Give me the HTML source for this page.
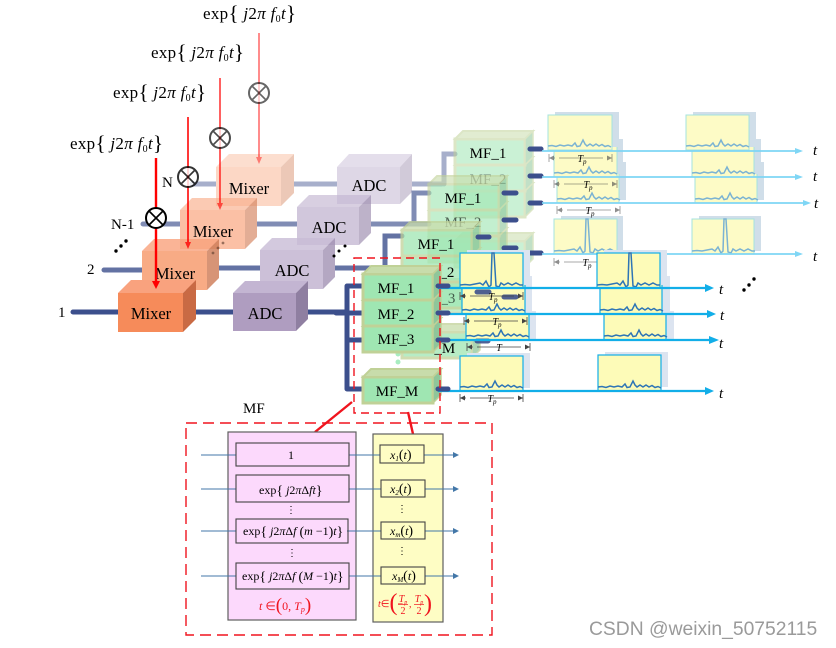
<!DOCTYPE html>
<html><head><meta charset="utf-8"><style>
html,body{margin:0;padding:0;background:#fff}
svg{display:block}
text{font-family:"Liberation Serif",serif;fill:#000}
.f{font-size:17px;letter-spacing:.3px}
.b{font-size:16.5px;text-anchor:middle}
.m{font-size:15px;text-anchor:middle}
.i{font-style:italic}
.l{font-size:15px}
.s{font-size:12px}
.tp{font-size:10px;font-style:italic;text-anchor:middle}
.tt{font-size:15px;font-style:italic}
.r{fill:#f0141e}
.bl{stroke:#3c4f8c;stroke-width:5;stroke-linecap:round;fill:none}
.soft{filter:blur(.35px)}
</style></head><body>
<svg width="836" height="648" viewBox="0 0 836 648" xmlns="http://www.w3.org/2000/svg">
<defs>
<g id="mfc"><rect x="0" y="0" width="70" height="26" fill="#9fe6b2" stroke="#c0d197" stroke-width="3"/><polygon points="0,0 8,-8 78,-8 70,0" fill="#c8dcab" stroke="#c0d197" stroke-width="2"/><polygon points="70,0 78,-8 78,18 70,26" fill="#8fc69a" stroke="#c0d197" stroke-width="1.5"/></g>
<polyline id="wv" fill="none" stroke-width="1.5" points="0,-4 4,-4.5 8,-3.5 12,-5 16,-4 20,-5 24,-4 27,-7 29,-3.5 32,-4 35,-10 37,-6 39,-4 42,-6 45,-4 48,-6 51,-4 54,-5.5 57,-3.5 60,-4.5 63,-3"/>
<polyline id="pk" fill="none" stroke-width="1.5" points="0,-3 5,-3.5 10,-3 15,-4 20,-5 23,-3 26,-7 28,-3 29,-1 31,-3 32,-35 34,-35 36,-2 39,-1 41,-5 44,-3 48,-5 52,-3 56,-5 60,-3 63,-3"/>
<g id="ym"><path d="M0,0H6M10,0H54M58,0H63" stroke="#444" stroke-width=".8"/><path d="M0,0L5,-2.5V2.5ZM63,0L58,-2.5V2.5Z" fill="#444"/><path d="M0,-4V4M63,-4V4" stroke="#444" stroke-width=".8"/></g>
<g id="xc"><circle r="10" fill="#fff" stroke="#000" stroke-width="2"/><path d="M-6.5,-6.5L6.5,6.5M-6.5,6.5L6.5,-6.5" stroke="#000" stroke-width="1.6"/></g>
</defs>
<g class="soft">
<!-- exp labels -->
<text class="f" x="203" y="19">exp<tspan font-size="21" dy="1">{</tspan><tspan dy="-1" class="i"> j</tspan>2<tspan class="i">π f</tspan><tspan font-size="10" dy="3">0</tspan><tspan dy="-3" class="i">t</tspan><tspan font-size="21" dy="1">}</tspan></text>
<text class="f" x="151" y="58">exp<tspan font-size="21" dy="1">{</tspan><tspan dy="-1" class="i"> j</tspan>2<tspan class="i">π f</tspan><tspan font-size="10" dy="3">0</tspan><tspan dy="-3" class="i">t</tspan><tspan font-size="21" dy="1">}</tspan></text>
<text class="f" x="113" y="98">exp<tspan font-size="21" dy="1">{</tspan><tspan dy="-1" class="i"> j</tspan>2<tspan class="i">π f</tspan><tspan font-size="10" dy="3">0</tspan><tspan dy="-3" class="i">t</tspan><tspan font-size="21" dy="1">}</tspan></text>
<text class="f" x="70" y="149">exp<tspan font-size="21" dy="1">{</tspan><tspan dy="-1" class="i"> j</tspan>2<tspan class="i">π f</tspan><tspan font-size="10" dy="3">0</tspan><tspan dy="-3" class="i">t</tspan><tspan font-size="21" dy="1">}</tspan></text>

<!-- channel N (rear) -->
<g opacity=".45">
<path class="bl" d="M192,184H225M290,184H345M403,184H442M444,184V154H455"/>
<polygon points="216,167 229,154 294,154 281,167" fill="#f9b796"/><rect x="216" y="167" width="65" height="39" fill="#f9a67e"/><polygon points="281,167 294,154 294,193 281,206" fill="#d68660"/>
<polygon points="337,167 349,154 412,154 400,167" fill="#c3b5d2"/><rect x="337" y="167" width="63" height="37" fill="#b7a6c8"/><polygon points="400,167 412,154 412,192 400,204" fill="#9a89ac"/>
</g>
<text class="b" x="249" y="194">Mixer</text><text class="b" x="369" y="191">ADC</text>

<!-- channel N-1 -->
<g opacity=".65">
<path class="bl" d="M143,224H190M252,224H298M366,224H429M414,224V193H429"/>
<polygon points="180,210 192,198 257,198 245,210" fill="#f9ae8b"/><rect x="180" y="210" width="65" height="39" fill="#f99f76"/><polygon points="245,210 257,198 257,237 245,249" fill="#d4815c"/>
<polygon points="297,207 309,195 371,195 359,207" fill="#c3b5d2"/><rect x="297" y="207" width="62" height="38" fill="#b9a9ca"/><polygon points="359,207 371,195 371,233 359,245" fill="#9a89ac"/>
</g>
<text class="b" x="213" y="237">Mixer</text><text class="b" x="329" y="233">ADC</text>

<!-- channel 2 -->
<g opacity=".8">
<path class="bl" d="M104,270H142M214,268H260M332,268H385V236H402"/>
<polygon points="142,251 154,239 219,239 207,251" fill="#f9a27c"/><rect x="142" y="251" width="65" height="39" fill="#f79767"/><polygon points="207,251 219,239 219,278 207,290" fill="#cd7a54"/>
<polygon points="260,250 272,238 335,238 323,250" fill="#c9bcd6"/><rect x="260" y="250" width="63" height="39" fill="#c0b1cf"/><polygon points="323,250 335,238 335,277 323,289" fill="#a291b3"/>
</g>
<text class="b" x="175" y="279">Mixer</text><text class="b" x="292" y="276">ADC</text>

<!-- channel 1 -->
<path class="bl" d="M73,312H118M190,312H233M304,312H347"/>
<polygon points="118,293 131,280 196,280 183,293" fill="#f9a27e"/><rect x="118" y="293" width="65" height="39" fill="#f68b5a"/><polygon points="183,293 196,280 196,319 183,332" fill="#c96a44"/>
<polygon points="233,293 245,281 308,281 296,293" fill="#c3b5d2"/><rect x="233" y="293" width="63" height="38" fill="#af9dc0"/><polygon points="296,293 308,281 308,319 296,331" fill="#8f7fa1"/>
<text class="b" x="151" y="319">Mixer</text><text class="b" x="265" y="319">ADC</text>

<!-- channel labels -->
<text class="l" x="162" y="187">N</text><text class="l" x="111" y="229">N-1</text><text class="l" x="87" y="274">2</text><text class="l" x="58" y="317">1</text>

<!-- ellipsis dots -->
<g fill="#000"><circle cx="116" cy="251" r="1.7"/><circle cx="121" cy="246" r="1.7"/><circle cx="126" cy="241" r="1.7"/>
<circle cx="334" cy="256" r="1.5"/><circle cx="339" cy="251" r="1.5"/><circle cx="345" cy="246" r="1.5"/>
<circle cx="744" cy="290" r="1.7"/><circle cx="749" cy="285" r="1.7"/><circle cx="754" cy="279" r="1.7"/></g>
<g fill="#5a3a2a" opacity=".6"><circle cx="213" cy="253" r="1.4"/><circle cx="218" cy="248" r="1.4"/><circle cx="223" cy="243" r="1.4"/></g>

<!-- LO red lines and mixers -->
<g stroke="#f00" fill="#f00">
<g opacity=".45"><path d="M259,33V160" stroke-width="2" fill="none"/><polygon points="256,157 262,157 259,164" stroke="none"/></g>
<g opacity=".62"><path d="M220,78V206" stroke-width="2" fill="none"/><polygon points="217,203 223,203 220,210" stroke="none"/></g>
<g opacity=".78"><path d="M188,117V245" stroke-width="2" fill="none"/><polygon points="185,242 191,242 188,249" stroke="none"/></g>
<path d="M156,158V283" stroke-width="2.4" fill="none"/><polygon points="152,281 160,281 156,289" stroke="none"/>
</g>
<use href="#xc" x="259" y="93" opacity=".6"/><use href="#xc" x="220" y="138" opacity=".7"/><use href="#xc" x="188" y="177" opacity=".8"/><use href="#xc" x="156" y="218"/>

<!-- rear matched filter groups -->
<g opacity=".55">
<use href="#mfc" x="455" y="241"/><use href="#mfc" x="455" y="191"/><use href="#mfc" x="455" y="165"/><use href="#mfc" x="455" y="139"/>
<path class="bl" d="M530,149H541M530,176H541M530,203H541M530,253H541"/>
</g>
<text class="m" x="488" y="158">MF_1</text><text class="m" x="488" y="184" opacity=".45">MF_2</text>
<path class="bl" d="M530,149H541M530,176H541M530,203H541M530,253H541"/>
<g opacity=".62">
<use href="#mfc" x="429" y="287"/><use href="#mfc" x="429" y="236"/><use href="#mfc" x="429" y="210"/><use href="#mfc" x="429" y="184"/>
</g>
<text class="m" x="463" y="203">MF_1</text><text class="m" x="463" y="227" opacity=".6">MF_2</text>
<path class="bl" d="M504,193H516M504,220H516M504,248H516"/>
<g opacity=".75">
<use href="#mfc" x="402" y="332"/><use href="#mfc" x="402" y="282"/><use href="#mfc" x="402" y="256"/><use href="#mfc" x="402" y="230"/>
</g>
<text class="m" x="436" y="249">MF_1</text><text class="m" x="436" y="277">MF_2</text><text class="m" x="437" y="303" opacity=".6">MF_3</text><text class="m" x="434" y="353">MF_M</text>
<path class="bl" d="M478,237H489"/>

<!-- rear waveform boxes -->
<g opacity=".8" stroke="#5aa0c8">
<g><rect x="564" y="162" width="62" height="38" fill="#c5d6e4" stroke="none"/><rect x="557" y="165" width="62" height="38" fill="#fdfbb8" stroke="#8fdcd8"/><use href="#wv" x="557" y="203"/>
<rect x="702" y="162" width="62" height="38" fill="#c5d6e4" stroke="none"/><rect x="695" y="165" width="62" height="38" fill="#fdfbb8" stroke="#8fdcd8"/><use href="#wv" x="695" y="203"/></g>
<g><rect x="561" y="139" width="62" height="35" fill="#c5d6e4" stroke="none"/><rect x="554" y="142" width="63" height="35" fill="#fdfbb8" stroke="#8fdcd8"/><use href="#wv" x="554" y="177"/>
<rect x="699" y="139" width="62" height="35" fill="#c5d6e4" stroke="none"/><rect x="692" y="142" width="62" height="35" fill="#fdfbb8" stroke="#8fdcd8"/><use href="#wv" x="692" y="177"/></g>
<g><rect x="555" y="112" width="64" height="35" fill="#c5d6e4" stroke="none"/><rect x="548" y="115" width="64" height="35" fill="#fdfbb8" stroke="#8fdcd8"/><use href="#wv" x="548" y="150"/>
<rect x="693" y="112" width="63" height="35" fill="#c5d6e4" stroke="none"/><rect x="686" y="115" width="63" height="35" fill="#fdfbb8" stroke="#8fdcd8"/><use href="#wv" x="686" y="150"/></g>
<g><rect x="561" y="216" width="62" height="35" fill="#c5d6e4" stroke="none"/><rect x="554" y="219" width="63" height="35" fill="#fdfbb8" stroke="#8fdcd8"/><use href="#pk" x="554" y="254"/>
<rect x="699" y="216" width="62" height="35" fill="#c5d6e4" stroke="none"/><rect x="692" y="219" width="62" height="35" fill="#fdfbb8" stroke="#8fdcd8"/><use href="#pk" x="692" y="254"/></g>
</g>
<g stroke="#7fd6f5" stroke-width="1.8" fill="none"><path d="M542,151H797M542,177H797M542,203H803M542,254H797"/></g>
<g fill="#7fd6f5"><polygon points="795,148 803,151 795,154"/><polygon points="795,174 803,177 795,180"/><polygon points="803,200 811,203 803,206"/><polygon points="795,251 803,254 795,257"/></g>
<g opacity=".6"><use href="#ym" x="549" y="158"/><use href="#ym" x="554" y="184"/><use href="#ym" x="557" y="210"/><use href="#ym" x="554" y="262"/></g>
<text class="tp" x="582" y="162">T<tspan font-size="7" dy="2">p</tspan></text><text class="tp" x="588" y="188">T<tspan font-size="7" dy="2">p</tspan></text><text class="tp" x="590" y="214">T<tspan font-size="7" dy="2">p</tspan></text><text class="tp" x="587" y="266">T<tspan font-size="7" dy="2">p</tspan></text>
<text class="tt" x="813" y="155">t</text><text class="tt" x="813" y="181">t</text><text class="tt" x="814" y="208">t</text><text class="tt" x="813" y="261">t</text>

<!-- front buses -->
<path class="bl" d="M347,286V389M347,286H362M336,313H362M347,340H362M347,389H362"/>
<g fill="#a8edc0"><circle cx="398" cy="354" r="2.5"/><circle cx="398" cy="362" r="2.5"/><circle cx="398" cy="371" r="2.5"/></g>
<!-- front MF -->
<use href="#mfc" x="363" y="377"/><use href="#mfc" x="363" y="326"/><use href="#mfc" x="363" y="300"/><use href="#mfc" x="363" y="274"/>
<text class="m" x="396" y="293">MF_1</text><text class="m" x="396" y="319">MF_2</text><text class="m" x="396" y="344">MF_3</text><text class="m" x="397" y="396">MF_M</text>

<!-- front waveform boxes -->
<g stroke="#2e75b6">
<rect x="473" y="311" width="63" height="28" fill="#dce4f0" stroke="none"/><rect x="466" y="314" width="63" height="26" fill="#fdfbb8" stroke="#12aee8" stroke-width="1.2"/><use href="#wv" x="466" y="340"/>
<rect x="611" y="311" width="63" height="28" fill="#dce4f0" stroke="none"/><rect x="604" y="314" width="62" height="26" fill="#fdfbb8" stroke="#12aee8" stroke-width="1.2"/><use href="#wv" x="604" y="340"/>
<rect x="469" y="276" width="63" height="35" fill="#dce4f0" stroke="none"/><rect x="462" y="279" width="63" height="35" fill="#fdfbb8" stroke="#12aee8" stroke-width="1.2"/><use href="#wv" x="462" y="314"/>
<rect x="607" y="276" width="63" height="35" fill="#dce4f0" stroke="none"/><rect x="600" y="279" width="62" height="35" fill="#fdfbb8" stroke="#12aee8" stroke-width="1.2"/><use href="#wv" x="600" y="314"/>
<rect x="467" y="250" width="63" height="35" fill="#dce4f0" stroke="none"/><rect x="460" y="253" width="63" height="35" fill="#fdfbb8" stroke="#12aee8" stroke-width="1.2"/><use href="#pk" x="460" y="288"/>
<rect x="604" y="250" width="63" height="35" fill="#dce4f0" stroke="none"/><rect x="597" y="253" width="63" height="35" fill="#fdfbb8" stroke="#12aee8" stroke-width="1.2"/><use href="#pk" x="597" y="288"/>
<rect x="467" y="353" width="63" height="35" fill="#dce4f0" stroke="none"/><rect x="460" y="356" width="63" height="35" fill="#fdfbb8" stroke="#12aee8" stroke-width="1.2"/><use href="#wv" x="460" y="391"/>
<rect x="605" y="352" width="63" height="35" fill="#dce4f0" stroke="none"/><rect x="598" y="355" width="63" height="36" fill="#fdfbb8" stroke="#12aee8" stroke-width="1.2"/><use href="#wv" x="598" y="391"/>
</g>
<path class="bl" d="M477,292H489M504,297H516M477,341H488" opacity=".9"/>
<g stroke="#12aee8" stroke-width="2.2" fill="none"><path d="M438,288H706M438,314H708M438,340H710M438,391H706"/></g>
<g fill="#12aee8"><polygon points="705,284 714,288 705,292"/><polygon points="707,310 716,314 707,318"/><polygon points="709,336 719,340 709,344"/><polygon points="705,387 714,391 705,395"/></g>
<path class="bl" d="M438,286H448M438,313H448M438,340H448M438,389H448"/>
<use href="#ym" x="460" y="296"/><use href="#ym" x="464" y="321"/><use href="#ym" x="467" y="347"/><use href="#ym" x="460" y="398"/>
<text class="tp" x="493" y="300">T<tspan font-size="7" dy="2">p</tspan></text><text class="tp" x="497" y="325">T<tspan font-size="7" dy="2">p</tspan></text><text class="tp" x="499" y="351">T</text><text class="tp" x="492" y="402">T<tspan font-size="7" dy="2">p</tspan></text>
<text class="tt" x="719" y="294">t</text><text class="tt" x="720" y="320">t</text><text class="tt" x="719" y="348">t</text><text class="tt" x="719" y="398">t</text>

<!-- red dashed selection -->
<rect x="354" y="258" width="86" height="155" fill="none" stroke="#f0141e" stroke-width="1.4" stroke-dasharray="8 5"/>
<rect x="186" y="423" width="306" height="212" fill="none" stroke="#f0141e" stroke-width="1.4" stroke-dasharray="11 6"/>
<path d="M352,402L315,432M408,412L413,434" stroke="#f0141e" stroke-width="2.4" fill="none"/>
<text x="243" y="413" font-size="15">MF</text>

<!-- MF detail -->
<rect x="228" y="432" width="128" height="188" fill="#fcd9fc" stroke="#5f5f5f" stroke-width="1.2"/>
<rect x="373" y="434" width="70" height="188" fill="#fefdc4" stroke="#5f5f5f" stroke-width="1.2"/>
<g stroke="#4377a8" stroke-width="1" fill="none">
<path d="M201,455H236M201,489H236M201,531H236M201,576H236M349,455H380M349,489H381M347,531H381M349,576H381M424,455H453M425,489H453M425,531H453M425,576H453"/></g>
<g fill="#4377a8"><polygon points="453,452 459,455 453,458"/><polygon points="453,486 459,489 453,492"/><polygon points="453,528 459,531 453,534"/><polygon points="453,573 459,576 453,579"/></g>
<g fill="none" stroke="#444" stroke-width="1.1">
<rect x="236" y="443" width="113" height="23"/><rect x="236" y="475" width="113" height="27"/><rect x="236" y="519" width="112" height="24"/><rect x="236" y="563" width="113" height="26"/>
<rect x="380" y="445" width="44" height="18"/><rect x="381" y="480" width="44" height="17"/><rect x="381" y="522" width="44" height="17"/><rect x="381" y="567" width="44" height="17"/>
</g>
<text class="s" x="288" y="459">1</text>
<text class="s" x="259" y="494">exp<tspan font-size="14" dy="1">{</tspan><tspan dy="-1" class="i"> j</tspan>2<tspan class="i">π</tspan>Δ<tspan class="i">ft</tspan><tspan font-size="14" dy="1">}</tspan></text>
<text class="s" x="243" y="535">exp<tspan font-size="14" dy="1">{</tspan><tspan dy="-1" class="i"> j</tspan>2<tspan class="i">π</tspan>Δ<tspan class="i">f </tspan><tspan font-size="14" dy="1">(</tspan><tspan dy="-1" class="i">m</tspan> −1<tspan font-size="14" dy="1">)</tspan><tspan dy="-1" class="i">t</tspan><tspan font-size="14" dy="1">}</tspan></text>
<text class="s" x="242" y="580">exp<tspan font-size="14" dy="1">{</tspan><tspan dy="-1" class="i"> j</tspan>2<tspan class="i">π</tspan>Δ<tspan class="i">f </tspan><tspan font-size="14" dy="1">(</tspan><tspan dy="-1" class="i">M</tspan> −1<tspan font-size="14" dy="1">)</tspan><tspan dy="-1" class="i">t</tspan><tspan font-size="14" dy="1">}</tspan></text>
<text font-size="10" x="291" y="513" text-anchor="middle">⋮</text><text font-size="10" x="292" y="556" text-anchor="middle">⋮</text>
<text font-size="10" x="402" y="512" text-anchor="middle">⋮</text><text font-size="10" x="402" y="554" text-anchor="middle">⋮</text>
<text class="s i" x="390" y="459">x<tspan font-size="7" dy="2">1</tspan><tspan dy="-2" font-size="14" font-style="normal">(</tspan>t<tspan font-size="14" font-style="normal">)</tspan></text>
<text class="s i" x="390" y="493">x<tspan font-size="7" dy="2">2</tspan><tspan dy="-2" font-size="14" font-style="normal">(</tspan>t<tspan font-size="14" font-style="normal">)</tspan></text>
<text class="s i" x="390" y="535">x<tspan font-size="7" dy="2">m</tspan><tspan dy="-2" font-size="14" font-style="normal">(</tspan>t<tspan font-size="14" font-style="normal">)</tspan></text>
<text class="s i" x="392" y="580">x<tspan font-size="7" dy="2">M</tspan><tspan dy="-2" font-size="14" font-style="normal">(</tspan>t<tspan font-size="14" font-style="normal">)</tspan></text>
<text class="s r" x="259" y="610"><tspan class="i r">t</tspan> ∈<tspan class="r" font-size="19" dy="1">(</tspan><tspan class="r" dy="-1">0, </tspan><tspan class="i r">T</tspan><tspan class="i r" font-size="8" dy="2">p</tspan><tspan class="r" font-size="19" dy="-1">)</tspan></text>
<text class="r" font-size="10" x="378" y="607"><tspan class="i r">t</tspan>∈<tspan class="r" font-size="24" dy="3">(</tspan><tspan class="r" dy="-3">−</tspan></text>
<text class="r i" font-size="10" x="403" y="602" text-anchor="middle">T<tspan font-size="6" dy="2">p</tspan></text><path d="M398,604.5H408" stroke="#f0141e" stroke-width=".7"/><text class="r" font-size="10" x="403" y="614" text-anchor="middle">2</text><text class="r" font-size="10" x="409" y="607">,</text>
<text class="r i" font-size="10" x="419" y="602" text-anchor="middle">T<tspan font-size="6" dy="2">p</tspan></text><path d="M414,604.5H424" stroke="#f0141e" stroke-width=".7"/><text class="r" font-size="10" x="419" y="614" text-anchor="middle">2</text>
<text class="r" font-size="24" x="424" y="611">)</text>
</g>
<!-- watermark -->
<text x="589" y="635" font-size="19.3" style="font-family:'Liberation Sans',sans-serif;fill:#9a9a9a">CSDN @weixin_50752115</text>
</svg>
</body></html>
